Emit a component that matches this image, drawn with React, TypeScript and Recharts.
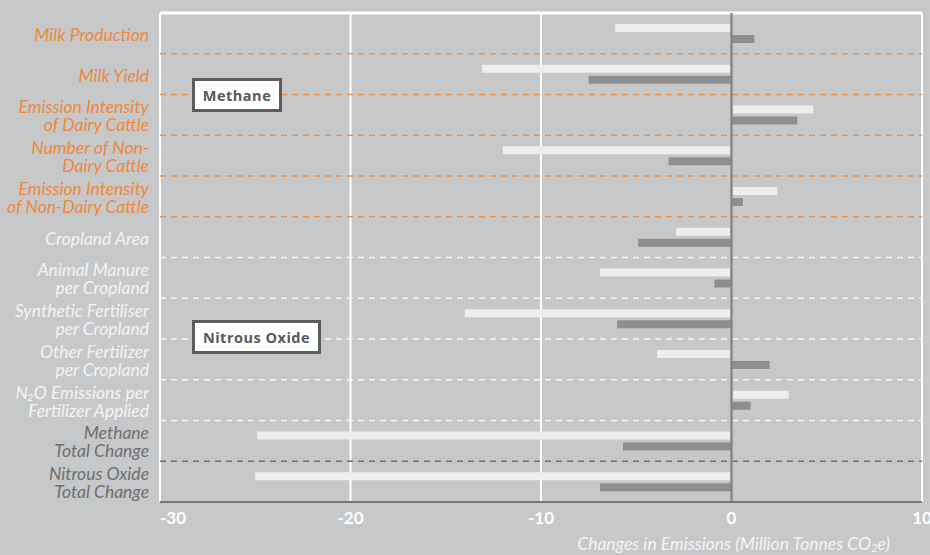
import React from "react";
import {
  BarChart,
  Bar,
  XAxis,
  YAxis,
  CartesianGrid,
  ReferenceLine,
} from "recharts";

const categories: string[][] = [
  ["Milk Production"],
  ["Milk Yield"],
  ["Emission Intensity", "of Dairy Cattle"],
  ["Number of Non-", "Dairy Cattle"],
  ["Emission Intensity", "of Non-Dairy Cattle"],
  ["Cropland Area"],
  ["Animal Manure", "per Cropland"],
  ["Synthetic Fertiliser", "per Cropland"],
  ["Other Fertilizer", "per Cropland"],
  ["N₂O Emissions per", "Fertilizer Applied"],
  ["Methane", "Total Change"],
  ["Nitrous Oxide", "Total Change"],
];
const labelGroup: string[] = [
  "methane", "methane", "methane", "methane", "methane",
  "n2o", "n2o", "n2o", "n2o", "n2o",
  "total", "total",
];
const seriesLight: number[] = [-6.1, -13.1, 4.3, -12.0, 2.4, -2.9, -6.9, -14.0, -3.9, 3.0, -24.9, -25.0];
const seriesDark: number[] = [1.2, -7.5, 3.45, -3.3, 0.6, -4.9, -0.9, -6.0, 2.0, 1.0, -5.7, -6.9];
const xTicks: number[] = [-30, -20, -10, 0, 10];
const orangeBoundaries: number[] = [1, 2, 3, 4, 5];
const whiteBoundaries: number[] = [6, 7, 8, 9, 10];
const grayBoundaries: number[] = [11];

const groupColor: Record<string, string> = {
  methane: "#f0883a",
  n2o: "#f4f4f4",
  total: "#6e6f71",
};

const data = categories.map((c, i) => ({
  key: String(i),
  light: seriesLight[i],
  dark: seriesDark[i],
}));

const FONT = "Lato, 'Open Sans', sans-serif";

const boundaryGen = (list: number[]) => (args: any) => {
  const off = args.offset || {};
  const top = off.top ?? 0;
  const h = off.height ?? 0;
  return list.map((b) => top + (b / categories.length) * h);
};

const YTick = (props: any) => {
  const { x, y, payload } = props;
  const idx = Number(payload.value);
  const lines = categories[idx];
  const color = groupColor[labelGroup[idx]];
  const offsets = lines.length === 1 ? [1] : [-8, 10];
  return (
    <g>
      {lines.map((l, k) => (
        <text
          key={k}
          x={x - 3}
          y={y + offsets[k]}
          textAnchor="end"
          dominantBaseline="central"
          fill={color}
          fontFamily={FONT}
          fontStyle="italic"
          fontSize={17.5}
        >
          {l}
        </text>
      ))}
    </g>
  );
};

const XTick = (props: any) => {
  const { x, y, payload } = props;
  const anchor = payload.value === -30 ? "start" : "middle";
  return (
    <text
      x={x}
      y={y + 14}
      textAnchor={anchor}
      fill="#ffffff"
      fontFamily={FONT}
      fontWeight="bold"
      fontSize={17}
    >
      {payload.value}
    </text>
  );
};

const boxStyle: React.CSSProperties = {
  position: "absolute",
  background: "#ffffff",
  border: "3px solid #5c5d5f",
  color: "#58595b",
  fontFamily: "'Open Sans', sans-serif",
  fontWeight: 700,
  fontSize: 14.5,
  boxSizing: "border-box",
  display: "flex",
  alignItems: "center",
  justifyContent: "center",
  letterSpacing: 0.5,
};

export default function App() {
  return (
    <div
      style={{
        position: "fixed",
        left: 0,
        top: 0,
        width: 930,
        height: 555,
        background: "#c7c8ca",
        overflow: "hidden",
      }}
    >
      <BarChart
        width={930}
        height={555}
        data={data}
        layout="vertical"
        margin={{ top: 13, right: 8, bottom: 0, left: 8 }}
        barSize={8}
        barGap={3}
        barCategoryGap={0}
      >
        <CartesianGrid horizontal={false} stroke="#ffffff" strokeWidth={2} />
        <CartesianGrid
          vertical={false}
          stroke="#ffffff"
          strokeWidth={3}
          horizontalCoordinatesGenerator={boundaryGen([0])}
        />
        <CartesianGrid
          vertical={false}
          stroke="#ef9148"
          strokeWidth={1.3}
          strokeDasharray="6 5"
          horizontalCoordinatesGenerator={boundaryGen(orangeBoundaries)}
        />
        <CartesianGrid
          vertical={false}
          stroke="#f7f7f7"
          strokeWidth={1.3}
          strokeDasharray="6 5"
          horizontalCoordinatesGenerator={boundaryGen(whiteBoundaries)}
        />
        <CartesianGrid
          vertical={false}
          stroke="#6e6f71"
          strokeWidth={1.3}
          strokeDasharray="6 5"
          horizontalCoordinatesGenerator={boundaryGen(grayBoundaries)}
        />
        <XAxis
          type="number"
          dataKey="light"
          domain={[-30, 10]}
          ticks={xTicks}
          allowDataOverflow
          height={53}
          tick={<XTick />}
          tickLine={false}
          axisLine={{ stroke: "#75777a", strokeWidth: 2 }}
          interval={0}
        />
        <YAxis
          type="category"
          dataKey="key"
          width={152}
          tick={<YTick />}
          tickLine={false}
          axisLine={false}
          interval={0}
        />
        <Bar dataKey="light" fill="#eeeeee" isAnimationActive={false} />
        <Bar dataKey="dark" fill="#8d8e90" isAnimationActive={false} />
        <ReferenceLine x={0} stroke="#848587" strokeWidth={2.5} />
        <text
          x={560}
          y={-3}
          fill="#e0643a"
          fontFamily={FONT}
          fontStyle="italic"
          fontSize={15}
        >
          Contributions to Change (1990–2015)
        </text>
        <text
          x={890}
          y={550}
          textAnchor="end"
          fill="#f5f5f5"
          fontFamily={FONT}
          fontStyle="italic"
          fontSize={17.5}
        >
          Changes in Emissions (Million Tonnes CO
          <tspan fontSize={11} dy={2}>2</tspan>
          <tspan dy={-2}>e)</tspan>
        </text>
      </BarChart>
      <div style={{ ...boxStyle, left: 192, top: 78, width: 90, height: 34 }}>Methane</div>
      <div style={{ ...boxStyle, left: 192, top: 320, width: 129, height: 34 }}>Nitrous Oxide</div>
    </div>
  );
}
